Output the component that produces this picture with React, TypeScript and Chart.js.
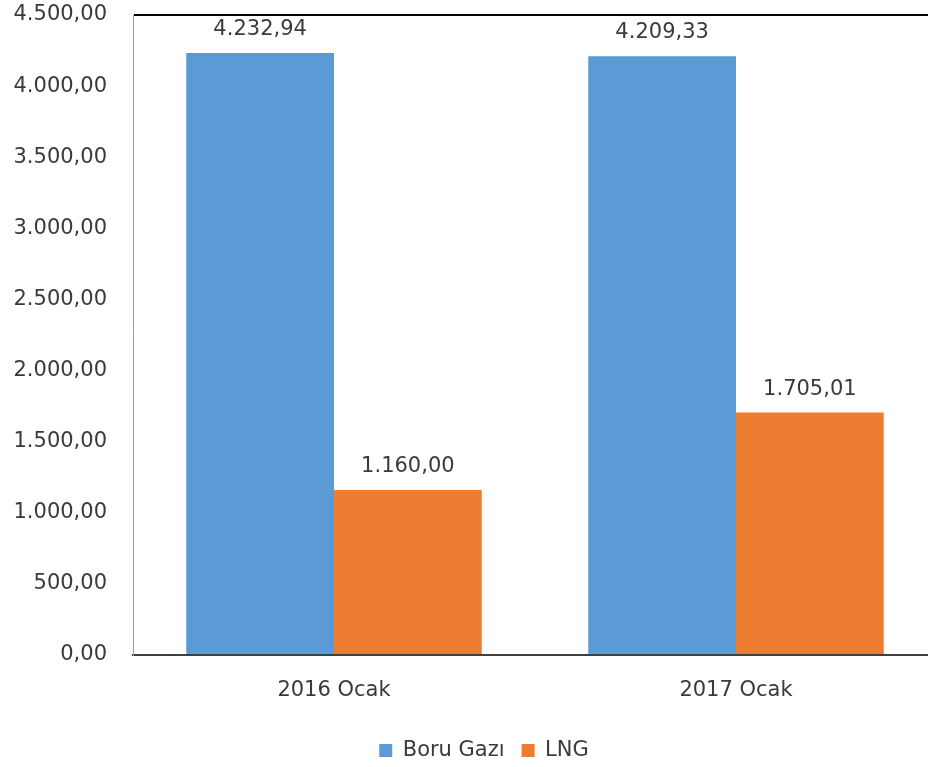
import React, { useEffect, useRef } from "react";
import { Chart, registerables } from "chart.js";

Chart.register(...registerables);

const categories = ["2016 Ocak", "2017 Ocak"];
const boruGazi = [4232.94, 4209.33];
const lng = [1160.0, 1705.01];
const seriesNames = ["Boru Gazı", "LNG"];
const yMin = 0;
const yMax = 4500;
const yStep = 500;

const FONT = "'DejaVu Sans', sans-serif";
const TEXT = "#3a3a3a";

function fmt(v: number): string {
  const fixed = Math.abs(v).toFixed(2);
  const [intPart, dec] = fixed.split(".");
  const withDots = intPart.replace(/\B(?=(\d{3})+(?!\d))/g, ".");
  return (v < 0 ? "-" : "") + withDots + "," + dec;
}

const dataLabelPlugin = {
  id: "dataLabels",
  afterDatasetsDraw(chart: any) {
    const ctx = chart.ctx;
    ctx.save();
    ctx.font = `21px ${FONT}`;
    ctx.fillStyle = TEXT;
    ctx.textAlign = "center";
    ctx.textBaseline = "alphabetic";
    chart.data.datasets.forEach((ds: any, di: number) => {
      const meta = chart.getDatasetMeta(di);
      meta.data.forEach((bar: any, i: number) => {
        ctx.fillText(fmt(ds.data[i]), bar.x, bar.y - 18);
      });
    });
    ctx.restore();
  },
};

// Centre the legend under the whole canvas (not the padded layout box)
const legendCenterPlugin = {
  id: "legendCenter",
  afterLayout(chart: any) {
    const lg = chart.legend;
    if (!lg) return;
    const shift = (chart.width - (lg.left + lg.right)) / 2;
    lg.left += shift;
    lg.right += shift;
    if (lg.legendHitBoxes) lg.legendHitBoxes.forEach((b: any) => (b.left += shift));
  },
};

export default function App() {
  const ref = useRef<HTMLCanvasElement>(null);
  useEffect(() => {
    if (!ref.current) return;
    const chart = new Chart(ref.current, {
      type: "bar",
      data: {
        labels: categories,
        datasets: [
          { label: seriesNames[0], data: boruGazi, backgroundColor: "#5B9BD5" },
          { label: seriesNames[1], data: lng, backgroundColor: "#ED7D31" },
        ],
      },
      options: {
        responsive: false,
        animation: false,
        layout: { padding: { top: 15, right: 31, left: 0, bottom: -4 } },
        datasets: { bar: { categoryPercentage: 0.735, barPercentage: 1 } },
        plugins: {
          tooltip: { enabled: false },
          legend: {
            position: "bottom",
            labels: {
              boxWidth: 13,
              boxHeight: 13,
              padding: 17,
              color: TEXT,
              font: { family: FONT, size: 21 },
            },
          },
        },
        scales: {
          x: {
            grid: { display: false, drawTicks: false },
            border: { color: "#404040", width: 2 },
            ticks: { color: TEXT, font: { family: FONT, size: 21 }, padding: 23 },
            afterFit(scale: any) {
              scale.height = 68;
            },
          },
          y: {
            min: yMin,
            max: yMax,
            ticks: {
              stepSize: yStep,
              color: TEXT,
              font: { family: FONT, size: 21 },
              padding: 26,
              callback: (v: any) => fmt(Number(v)),
            },
            grid: {
              drawTicks: false,
              color: (c: any) => (c.tick && c.tick.value === yMax ? "#000000" : "rgba(0,0,0,0)"),
              lineWidth: 2,
            },
            border: { color: "#9a9a9a", width: 1 },
            afterFit(scale: any) {
              scale.width = 133;
              scale.paddingTop = 0;
              scale.paddingBottom = 0;
            },
          },
        },
      },
      plugins: [dataLabelPlugin, legendCenterPlugin],
    });
    return () => chart.destroy();
  }, []);
  return (
    <div style={{ position: "fixed", left: 0, top: 0, width: 928, height: 767, overflow: "hidden", background: "#fff" }}>
      <canvas ref={ref} width={968} height={767} style={{ display: "block" }} />
    </div>
  );
}
